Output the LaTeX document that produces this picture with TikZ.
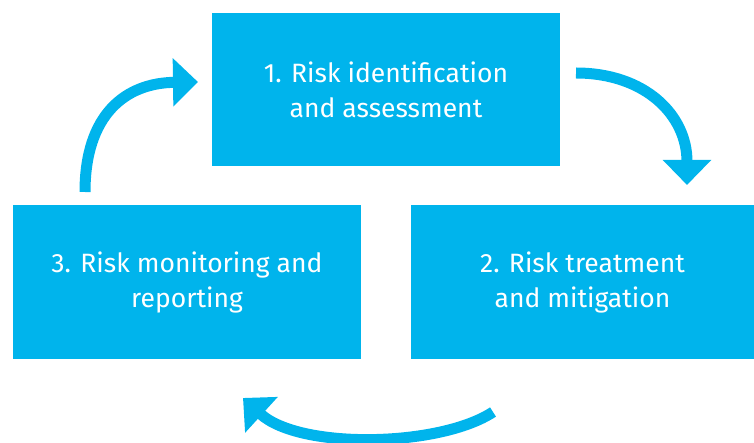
\documentclass[tikz,border=0pt]{standalone}
\usepackage{fontspec}
\setmainfont{Fira Sans}
\usetikzlibrary{arrows.meta}
\definecolor{riskblue}{RGB}{0,180,236}
\begin{document}
\begin{tikzpicture}[x=1pt,y=-1pt,
  stepbox/.style={fill=riskblue, draw=none, text=white, minimum width=#1,
    minimum height=153pt, align=center, inner sep=0pt,
    font=\fontsize{26.5}{35}\selectfont},
  cyclearrow/.style={draw=riskblue, line width=11pt,
    -{Triangle[length=25pt,width=47pt]}}]
\useasboundingbox (0,0) rectangle (754,443);
\node[stepbox=348pt] (s1) at (386,90) {1. Risk identification\\and assessment};
\node[stepbox=343pt] (s2) at (582.5,282) {2. Risk treatment\\and mitigation};
\node[stepbox=348pt] (s3) at (187,282) {3. Risk monitoring and\\reporting};
\coordinate (a1s) at (576,73);
\coordinate (a1e) at (687,185);
\coordinate (a2s) at (493,412);
\coordinate (a2e) at (243,398);
\coordinate (a3s) at (85,192);
\coordinate (a3e) at (198,82);
\draw[cyclearrow] (a1s) .. controls (645,73) and (687,115) .. (a1e);
\draw[cyclearrow] (a2s) .. controls (440,447) and (300,450) .. (a2e);
\draw[cyclearrow] (a3s) .. controls (85,115) and (125,83) .. (a3e);
\end{tikzpicture}
\end{document}
